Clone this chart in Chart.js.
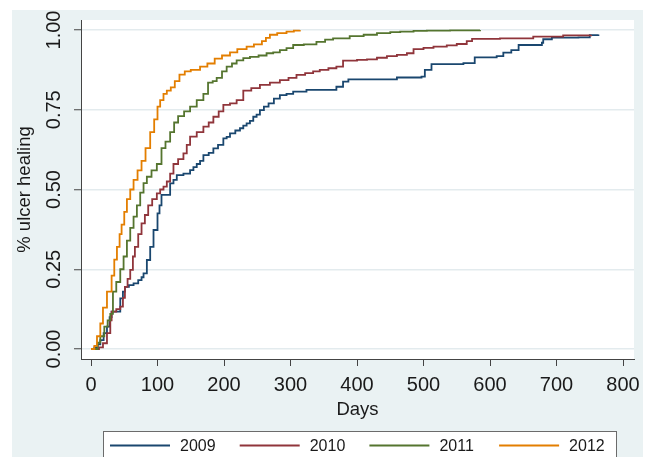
<!DOCTYPE html>
<html>
<head>
<meta charset="utf-8">
<script src="https://cdn.jsdelivr.net/npm/chart.js@4"></script>
<style>
  html, body { margin: 0; padding: 0; background: #ffffff; }
  canvas { display: block; }
</style>
</head>
<body>
<canvas id="c" width="649" height="457"></canvas>
<script>
// ---------------- data ----------------
const seriesLabels = ['2009', '2010', '2011', '2012'];
const seriesColors = ['#1a476f', '#90353b', '#55752f', '#e37e00'];

const days2009 = [0, 5, 10, 14, 19, 24, 28, 31, 41, 44, 48, 51, 57, 64, 71, 76, 79, 84, 89, 94, 100, 103, 106, 116, 119, 124, 129, 139, 149, 154, 159, 164, 169, 177, 184, 191, 199, 204, 209, 217, 224, 229, 234, 239, 244, 249, 254, 260, 267, 275, 284, 294, 304, 324, 364, 369, 379, 387, 460, 497, 502, 512, 560, 577, 610, 620, 632, 643, 678, 680, 693, 733, 750, 763];
const heal2009 = [0, 0.005, 0.015, 0.028, 0.05, 0.07, 0.1, 0.117, 0.117, 0.159, 0.18, 0.195, 0.2, 0.206, 0.216, 0.225, 0.237, 0.279, 0.32, 0.373, 0.425, 0.45, 0.483, 0.483, 0.519, 0.53, 0.545, 0.55, 0.561, 0.57, 0.58, 0.59, 0.608, 0.615, 0.629, 0.64, 0.66, 0.665, 0.676, 0.685, 0.692, 0.7, 0.707, 0.715, 0.728, 0.735, 0.749, 0.76, 0.77, 0.785, 0.796, 0.8, 0.807, 0.812, 0.812, 0.822, 0.838, 0.845, 0.851, 0.854, 0.875, 0.893, 0.896, 0.914, 0.918, 0.929, 0.937, 0.953, 0.96, 0.971, 0.976, 0.977, 0.984, 0.986];

const days2010 = [0, 6, 12, 18, 24, 29, 31, 38, 44, 48, 51, 55, 59, 63, 66, 71, 76, 81, 86, 92, 99, 104, 109, 114, 119, 124, 131, 139, 144, 149, 159, 169, 177, 184, 192, 199, 209, 219, 229, 241, 254, 269, 284, 297, 309, 322, 334, 344, 357, 369, 379, 400, 415, 430, 445, 460, 475, 485, 500, 515, 535, 550, 565, 573, 615, 665, 710, 752];
const heal2010 = [0, 0, 0.005, 0.018, 0.05, 0.09, 0.117, 0.125, 0.133, 0.16, 0.195, 0.22, 0.248, 0.29, 0.32, 0.36, 0.394, 0.42, 0.45, 0.47, 0.488, 0.5, 0.509, 0.525, 0.55, 0.58, 0.595, 0.613, 0.64, 0.666, 0.68, 0.697, 0.71, 0.728, 0.745, 0.765, 0.77, 0.78, 0.81, 0.818, 0.828, 0.835, 0.843, 0.85, 0.859, 0.865, 0.87, 0.875, 0.88, 0.885, 0.904, 0.906, 0.908, 0.913, 0.918, 0.922, 0.927, 0.94, 0.944, 0.948, 0.952, 0.956, 0.965, 0.972, 0.974, 0.979, 0.983, 0.984];

const days2011 = [0, 6, 10, 14, 20, 25, 29, 33, 38, 44, 49, 54, 59, 64, 69, 74, 79, 84, 91, 99, 106, 112, 119, 125, 131, 140, 149, 159, 169, 176, 183, 189, 197, 204, 212, 219, 229, 239, 252, 264, 274, 284, 294, 304, 320, 339, 352, 364, 389, 410, 430, 450, 465, 485, 505, 540, 585];
const heal2011 = [0, 0, 0.02, 0.04, 0.07, 0.09, 0.11, 0.18, 0.21, 0.25, 0.29, 0.34, 0.38, 0.415, 0.45, 0.49, 0.52, 0.54, 0.56, 0.58, 0.63, 0.65, 0.68, 0.71, 0.73, 0.745, 0.76, 0.78, 0.80, 0.835, 0.84, 0.85, 0.87, 0.885, 0.895, 0.905, 0.912, 0.916, 0.92, 0.927, 0.93, 0.937, 0.943, 0.953, 0.955, 0.963, 0.97, 0.974, 0.981, 0.985, 0.99, 0.993, 0.995, 0.997, 0.998, 0.999, 1.0];

const days2012 = [0, 5, 9, 14, 18, 24, 31, 35, 39, 43, 46, 50, 54, 59, 64, 70, 76, 82, 89, 95, 100, 104, 109, 114, 120, 126, 133, 141, 150, 164, 175, 186, 197, 209, 220, 234, 245, 257, 263, 269, 280, 294, 305, 314];
const heal2012 = [0, 0.01, 0.04, 0.08, 0.13, 0.18, 0.23, 0.28, 0.32, 0.36, 0.39, 0.43, 0.47, 0.50, 0.53, 0.56, 0.59, 0.63, 0.68, 0.72, 0.76, 0.78, 0.80, 0.81, 0.82, 0.84, 0.86, 0.87, 0.875, 0.885, 0.895, 0.91, 0.92, 0.93, 0.94, 0.948, 0.955, 0.965, 0.975, 0.985, 0.99, 0.995, 0.998, 1.0];

const xTickValues = [0, 100, 200, 300, 400, 500, 600, 700, 800];
const yTickValues = [0, 0.25, 0.5, 0.75, 1.0];
const xTitle = 'Days';
const yTitle = '% ulcer healing';

// ---------------- chart ----------------
const FONT = '"Liberation Sans", Arial, sans-serif';
Chart.defaults.font.family = FONT;

const allDays = [days2009, days2010, days2011, days2012];
const allHeal = [heal2009, heal2010, heal2011, heal2012];

const datasets = seriesLabels.map((lab, i) => ({
  label: lab,
  data: allDays[i].map((d, j) => ({ x: d, y: allHeal[i][j] })),
  borderColor: seriesColors[i],
  backgroundColor: seriesColors[i],
  borderWidth: 1.8,
  stepped: true,
  pointRadius: 0,
  fill: false,
  order: 4 - i
}));

const bgPlugin = {
  id: 'bgPlugin',
  beforeDraw(chart) {
    const { ctx, chartArea: a, width, height } = chart;
    ctx.save();
    ctx.fillStyle = '#ffffff';
    ctx.fillRect(0, 0, width, height);
    ctx.fillStyle = '#eaf2f3';
    ctx.fillRect(12, 10, 631, height - 10);
    ctx.fillStyle = '#ffffff';
    ctx.fillRect(a.left, a.top, a.right - a.left, a.bottom - a.top);
    ctx.restore();
  },
  afterDraw(chart) {
    const { ctx } = chart;
    const ys = chart.scales.y;
    // rotated y tick labels
    ctx.save();
    ctx.font = '20px ' + FONT;
    ctx.fillStyle = '#1a1a1a';
    ctx.textAlign = 'center';
    ctx.textBaseline = 'alphabetic';
    yTickValues.forEach(v => {
      const py = ys.getPixelForValue(v);
      ctx.save();
      ctx.translate(60, py);
      ctx.rotate(-Math.PI / 2);
      ctx.fillText(v.toFixed(2), 0, 0);
      ctx.restore();
    });
    ctx.restore();

    // legend box
    const boxL = 103, boxT = 431, boxR = 616;
    ctx.save();
    ctx.fillStyle = '#ffffff';
    ctx.fillRect(boxL, boxT, boxR - boxL, chart.height - boxT + 5);
    ctx.strokeStyle = '#6b6b6b';
    ctx.lineWidth = 1;
    ctx.strokeRect(boxL + 0.5, boxT + 0.5, boxR - boxL, chart.height - boxT + 5);
    ctx.font = '16px ' + FONT;
    ctx.textAlign = 'left';
    ctx.textBaseline = 'middle';
    chart.data.datasets.forEach((ds, i) => {
      const x0 = 110 + i * 129.7;
      const yy = 445.5;
      ctx.strokeStyle = ds.borderColor;
      ctx.lineWidth = 1.8;
      ctx.beginPath();
      ctx.moveTo(x0, yy);
      ctx.lineTo(x0 + 60, yy);
      ctx.stroke();
      ctx.fillStyle = '#1a1a1a';
      ctx.fillText(ds.label, x0 + 70, yy + 1);
    });
    ctx.restore();
  }
};

new Chart(document.getElementById('c'), {
  type: 'line',
  data: { datasets },
  plugins: [bgPlugin],
  options: {
    responsive: false,
    animation: false,
    events: [],
    layout: { padding: { left: 12, top: 20, right: 15, bottom: 0 } },
    plugins: { legend: { display: false }, tooltip: { enabled: false } },
    scales: {
      x: {
        type: 'linear',
        min: -15.04,
        max: 816.5,
        afterBuildTicks: s => { s.ticks = xTickValues.map(v => ({ value: v })); },
        afterFit: s => { s.height = 98; },
        grid: { drawOnChartArea: false, drawTicks: true, tickLength: 7, tickColor: '#444', tickWidth: 1 },
        border: { display: true, color: '#444', width: 1 },
        ticks: { color: '#1a1a1a', font: { size: 20 }, padding: 7, maxRotation: 0, autoSkip: false },
        title: { display: true, text: xTitle, color: '#1a1a1a', font: { size: 18.5 }, padding: { top: 0, bottom: 36 } }
      },
      y: {
        type: 'linear',
        min: -0.0313,
        max: 1.0313,
        afterBuildTicks: s => { s.ticks = yTickValues.map(v => ({ value: v })); },
        afterFit: s => { s.width = 69; },
        grid: { drawOnChartArea: true, color: '#e3ebee', lineWidth: 1.5, drawTicks: true, tickLength: 7, tickColor: '#444', tickWidth: 1 },
        border: { display: true, color: '#444', width: 1 },
        ticks: { display: false },
        title: { display: true, text: yTitle, color: '#1a1a1a', font: { size: 18.5 }, padding: { top: 2, bottom: 0 } }
      }
    }
  }
});
</script>
</body>
</html>
